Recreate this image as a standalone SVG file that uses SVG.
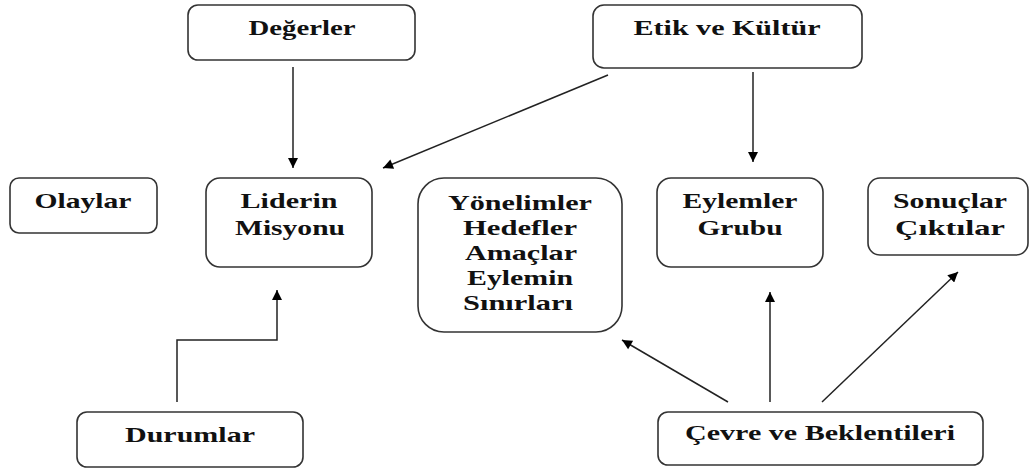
<svg xmlns="http://www.w3.org/2000/svg" width="1030" height="468" viewBox="0 0 1030 468">
<style>
.box{fill:#fff;stroke:#333;stroke-width:1.6}
.t{font-family:"Liberation Serif","Times New Roman",serif;font-weight:bold;font-size:21px;fill:#111;text-anchor:middle}
.c{fill:none;stroke:#222;stroke-width:1.5}
</style>
<defs>
<marker id="ah" viewBox="0 0 10 10" refX="10" refY="5" markerWidth="11" markerHeight="10" markerUnits="userSpaceOnUse" orient="auto">
<path d="M0,0 L10,5 L0,10 z" fill="#000"/>
</marker>
</defs>
<rect width="1030" height="468" fill="#fff"/>
<g id="connectors">
<line class="c" x1="293" y1="67" x2="293" y2="168" marker-end="url(#ah)"/>
<line class="c" x1="608" y1="75" x2="383" y2="168" marker-end="url(#ah)"/>
<line class="c" x1="753" y1="72" x2="753" y2="162" marker-end="url(#ah)"/>
<polyline class="c" points="177,402 177,340 277,340 277,290" marker-end="url(#ah)"/>
<line class="c" x1="728" y1="402" x2="622" y2="340" marker-end="url(#ah)"/>
<line class="c" x1="770" y1="402" x2="770" y2="292" marker-end="url(#ah)"/>
<line class="c" x1="822" y1="402" x2="958" y2="272" marker-end="url(#ah)"/>
</g>
<g id="degerler">
<rect class="box" x="188" y="5" width="227" height="55" rx="10"/>
<text class="t" x="302" y="35" textLength="107" lengthAdjust="spacingAndGlyphs">Değerler</text>
</g>
<g id="etik">
<rect class="box" x="593" y="5" width="269" height="63" rx="11"/>
<text class="t" x="727" y="35" textLength="187" lengthAdjust="spacingAndGlyphs">Etik ve Kültür</text>
</g>
<g id="olaylar">
<rect class="box" x="10" y="178" width="147" height="55" rx="9"/>
<text class="t" x="83" y="208" textLength="97" lengthAdjust="spacingAndGlyphs">Olaylar</text>
</g>
<g id="lider">
<rect class="box" x="206" y="178" width="166" height="89" rx="14"/>
<text class="t" x="289" y="208" textLength="97" lengthAdjust="spacingAndGlyphs">Liderin</text>
<text class="t" x="290" y="235" textLength="110" lengthAdjust="spacingAndGlyphs">Misyonu</text>
</g>
<g id="yonelimler">
<rect class="box" x="418" y="178" width="204" height="154" rx="26"/>
<text class="t" x="520" y="210" textLength="144" lengthAdjust="spacingAndGlyphs">Yönelimler</text>
<text class="t" x="520" y="235" textLength="114" lengthAdjust="spacingAndGlyphs">Hedefler</text>
<text class="t" x="521" y="260" textLength="112" lengthAdjust="spacingAndGlyphs">Amaçlar</text>
<text class="t" x="520" y="285" textLength="106" lengthAdjust="spacingAndGlyphs">Eylemin</text>
<text class="t" x="518" y="310" textLength="110" lengthAdjust="spacingAndGlyphs">Sınırları</text>
</g>
<g id="eylemler">
<rect class="box" x="657" y="178" width="166" height="89" rx="14"/>
<text class="t" x="740" y="208" textLength="115" lengthAdjust="spacingAndGlyphs">Eylemler</text>
<text class="t" x="740" y="235" textLength="85" lengthAdjust="spacingAndGlyphs">Grubu</text>
</g>
<g id="sonuclar">
<rect class="box" x="868" y="178" width="160" height="77" rx="12"/>
<text class="t" x="950" y="208" textLength="114" lengthAdjust="spacingAndGlyphs">Sonuçlar</text>
<text class="t" x="950" y="235" textLength="110" lengthAdjust="spacingAndGlyphs">Çıktılar</text>
</g>
<g id="durumlar">
<rect class="box" x="77" y="412" width="226" height="55" rx="10"/>
<text class="t" x="190" y="442" textLength="130" lengthAdjust="spacingAndGlyphs">Durumlar</text>
</g>
<g id="cevre">
<rect class="box" x="658" y="412" width="325" height="53" rx="10"/>
<text class="t" x="820" y="440" textLength="270" lengthAdjust="spacingAndGlyphs">Çevre ve Beklentileri</text>
</g>
</svg>
